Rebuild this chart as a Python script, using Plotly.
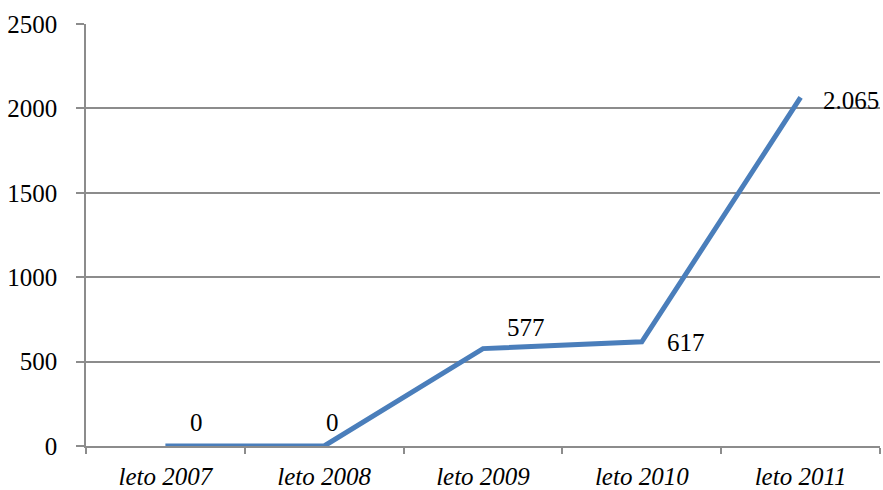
import plotly.graph_objects as go

categories = ["leto 2007", "leto 2008", "leto 2009", "leto 2010", "leto 2011"]
values = [0, 0, 577, 617, 2065]
value_labels = ["0", "0", "577", "617", "2.065"]
label_dx = [31, 8, 43, 44, 50]
label_dy = [24, 24, 21, -1, -3]

FONT = "Liberation Serif, Times New Roman, serif"
GRID = "#8c8c8c"

fig = go.Figure()
fig.add_trace(go.Scatter(
    x=categories, y=values, mode="lines",
    line=dict(color="#4a7ebb", width=5),
    hoverinfo="skip", showlegend=False,
))

for c, v, t, dx, dy in zip(categories, values, value_labels, label_dx, label_dy):
    fig.add_annotation(x=c, y=v, text=t, showarrow=False,
                       xshift=dx, yshift=dy,
                       font=dict(family=FONT, size=25, color="black"))

fig.update_layout(
    width=883, height=490,
    margin=dict(l=86, r=3, t=24, b=44),
    paper_bgcolor="white", plot_bgcolor="white",
    font=dict(family=FONT, size=25, color="black"),
)
fig.update_xaxes(
    type="category", range=[-0.5, 4.5], automargin=False,
    showline=True, linecolor=GRID, linewidth=1.5,
    ticks="outside", ticklen=6, tickcolor=GRID, tickwidth=1.5,
    tickson="boundaries", showgrid=False,
    tickfont=dict(family=FONT, size=25, style="italic"),
    ticklabelstandoff=7,
)
fig.update_yaxes(
    range=[0, 2500], dtick=500, tick0=0, automargin=False,
    showline=True, linecolor=GRID, linewidth=1.5,
    showgrid=True, gridcolor=GRID, gridwidth=1.5,
    ticks="outside", ticklen=8, tickcolor=GRID, tickwidth=1.5,
    zeroline=False,
    tickfont=dict(family=FONT, size=25),
    ticklabelstandoff=14,
)

fig.write_html("out.html", config={"displayModeBar": False},
               post_script="document.body.style.margin='0';")
